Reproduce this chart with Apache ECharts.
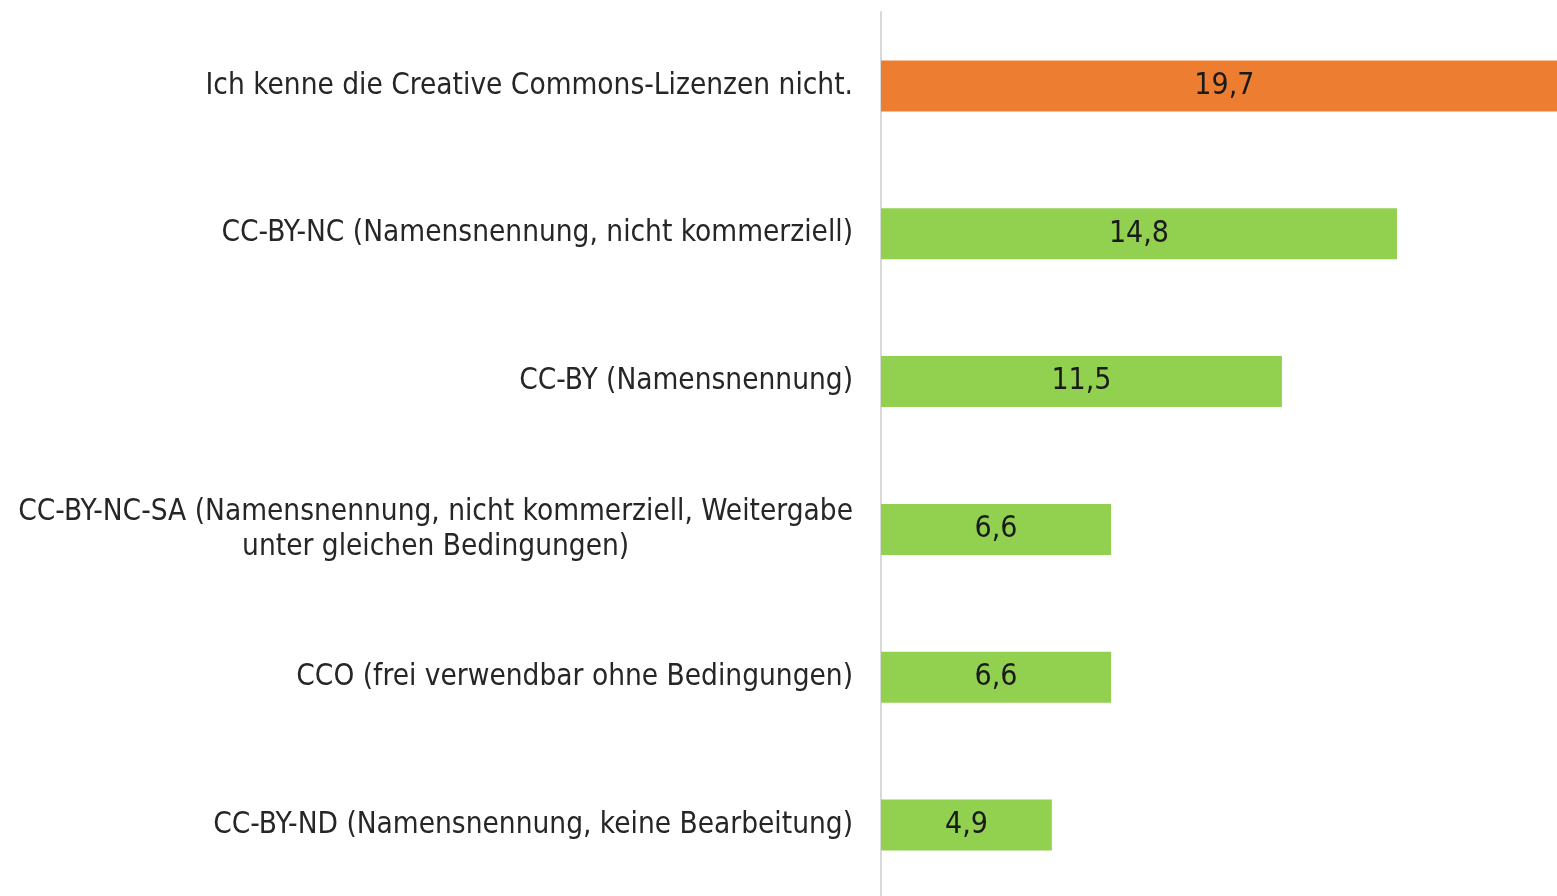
<!DOCTYPE html>
<html>
<head>
<meta charset="utf-8">
<script src="https://cdn.jsdelivr.net/npm/echarts@6/dist/echarts.min.js"></script>
<style>
  html, body { margin: 0; padding: 0; background: #fff; overflow: hidden; }
  #chart { width: 1557px; height: 899px; }
</style>
</head>
<body>
<div id="chart"></div>
<script>
const categories = [
  'Ich kenne die Creative Commons-Lizenzen nicht.',
  'CC-BY-NC (Namensnennung, nicht kommerziell)',
  'CC-BY (Namensnennung)',
  'CC-BY-NC-SA (Namensnennung, nicht kommerziell, Weitergabe\nunter gleichen Bedingungen)',
  'CCO (frei verwendbar ohne Bedingungen)',
  'CC-BY-ND (Namensnennung, keine Bearbeitung)'
];
const values = [19.7, 14.8, 11.5, 6.6, 6.6, 4.9];
const barColors = ['#ED7D31', '#92D050', '#92D050', '#92D050', '#92D050', '#92D050'];

const FONT = '"Liberation Sans Narrow", "DejaVu Sans Condensed", sans-serif';

const chart = echarts.init(document.getElementById('chart'));

const option = {
  animation: false,
  grid: { left: 881, right: 0, top: 12, bottom: 0, containLabel: false },
  xAxis: {
    type: 'value',
    min: 0,
    max: 19.39,
    show: false
  },
  yAxis: {
    type: 'category',
    inverse: true,
    data: categories,
    axisLine: { show: true, lineStyle: { color: '#d9d9d9', width: 2 } },
    axisTick: { show: false },
    axisLabel: {
      margin: 28,
      formatter: function (v) {
        return v.split('\n').map(function (l) { return '{c|' + l + '}'; }).join('\n');
      },
      rich: {
        c: {
          align: 'center',
          fontFamily: FONT,
          fontSize: 29.5,
          color: '#262626',
          lineHeight: 35
        }
      }
    }
  },
  series: [{
    type: 'bar',
    barWidth: 51,
    clip: false,
    data: values.map(function (v, i) {
      return { value: v, itemStyle: { color: barColors[i] } };
    }),
    label: {
      show: true,
      position: 'inside',
      fontFamily: FONT,
      fontSize: 30,
      color: '#1a1a1a',
      formatter: function (p) { return String(p.value).replace('.', ','); }
    }
  }]
};

chart.setOption(option);
</script>
</body>
</html>
